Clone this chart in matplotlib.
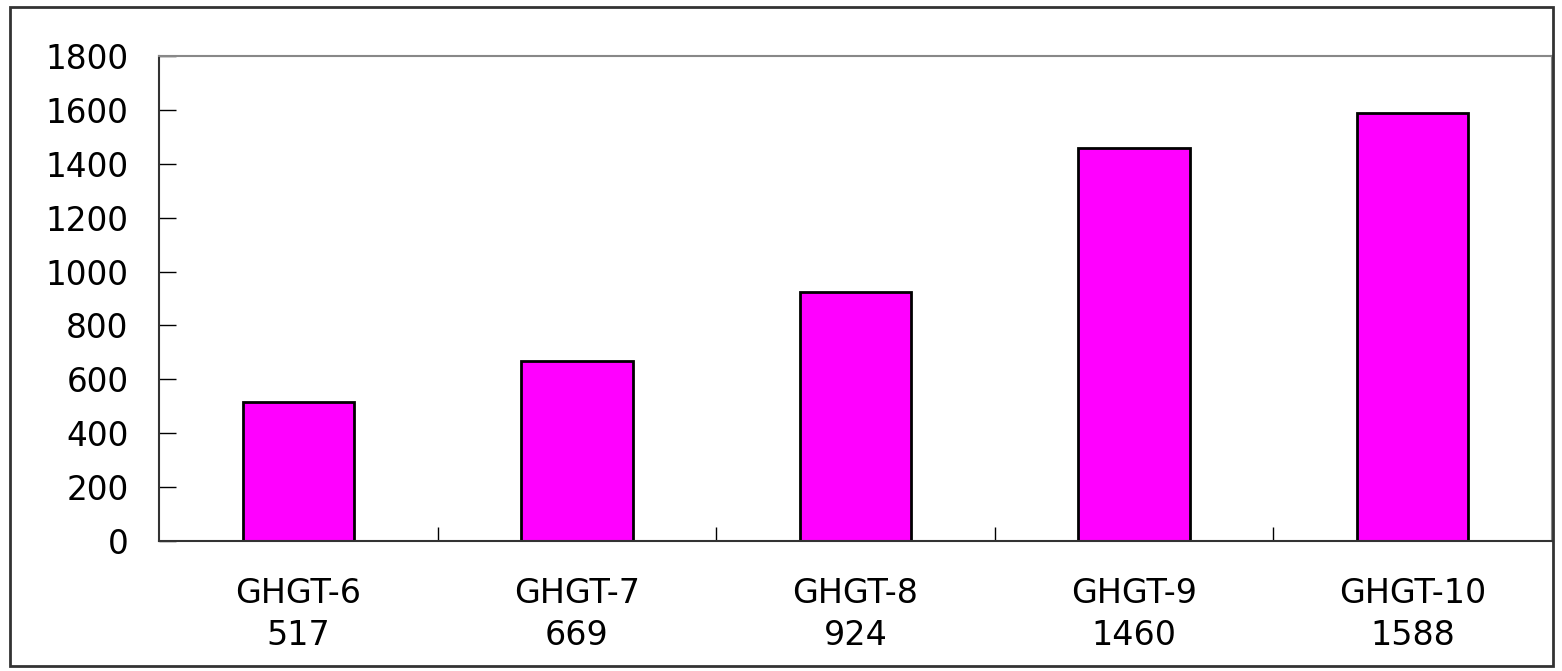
import matplotlib
matplotlib.use('Agg')
import matplotlib.pyplot as plt
from matplotlib.patches import Rectangle

# Conference names and number of papers
conferences = ['GHGT-6', 'GHGT-7', 'GHGT-8', 'GHGT-9', 'GHGT-10']
papers = [517, 669, 924, 1460, 1588]
y_ticks = [0, 200, 400, 600, 800, 1000, 1200, 1400, 1600, 1800]

plt.rcParams['font.family'] = ['DejaVu Sans']

fig = plt.figure(figsize=(15.62, 6.71), dpi=100)
ax = fig.add_axes([0.1018, 0.1937, 0.8918, 0.7228])

x = list(range(len(conferences)))
ax.bar(x, papers, width=0.4, color='#FF00FF', edgecolor='black', linewidth=2)

ax.set_xlim(-0.5, len(conferences) - 0.5)
ax.set_ylim(0, 1800)
ax.set_yticks(y_ticks)
ax.tick_params(axis='y', direction='in', length=12, width=1, labelsize=23.5, pad=22)

# category labels with the value underneath, ticks at the category boundaries
ax.set_xticks(x)
ax.set_xticklabels([f'{c}\n{v}' for c, v in zip(conferences, papers)], fontsize=24, linespacing=1.35)
ax.tick_params(axis='x', which='major', length=0, pad=26)
ax.set_xticks([i + 0.5 for i in x[:-1]], minor=True)
ax.tick_params(axis='x', which='minor', direction='in', length=10, width=1)

for side in ['left', 'bottom']:
    ax.spines[side].set_color('#333333')
    ax.spines[side].set_linewidth(1.5)
for side in ['top', 'right']:
    ax.spines[side].set_color('#888888')
    ax.spines[side].set_linewidth(1.5)

# border round the whole figure
fig.patches.append(Rectangle((0.0067, 0.007), 0.9875, 0.982, transform=fig.transFigure,
                             fill=False, edgecolor='#333333', linewidth=2))

plt.savefig('out.png', dpi=100)
plt.close()
